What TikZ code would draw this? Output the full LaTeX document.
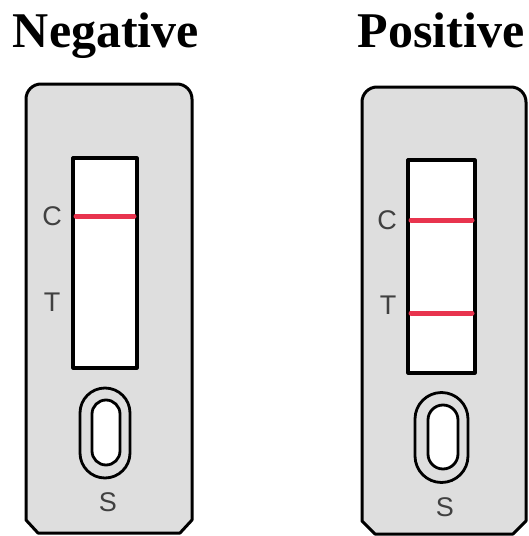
\documentclass[tikz,border=0pt]{standalone}
\usepackage{fontspec}
\setmainfont{Liberation Serif}
\newfontfamily\labelfont{Liberation Sans}
\begin{document}
\begin{tikzpicture}[x=1pt,y=-1pt,
  cardbody/.style={draw=black,fill=cardgray,line width=3pt,line join=round},
  stripwin/.style={draw=black,fill=white,line width=3.2pt,line join=round},
  bandline/.style={draw=bandred,line width=5pt,line cap=round},
  wellring/.style={draw=black,line width=2.8pt},
  marklabel/.style={font=\labelfont\fontsize{27}{27}\selectfont,text=labelgray,inner sep=0pt},
  heading/.style={font=\bfseries\fontsize{50}{50}\selectfont,inner sep=0pt,anchor=base}]
\definecolor{cardgray}{HTML}{DEDEDE}
\definecolor{bandred}{HTML}{E8344E}
\definecolor{labelgray}{HTML}{404040}
\useasboundingbox (0,0) rectangle (528,536);

% headings
\node[heading] (neg) at (106,47) {Negative};
\node[heading] (pos) at (441,47) {Positive};

% ---- negative cassette ----
\draw[cardbody] (26,99) arc[start angle=180,end angle=270,radius=15] -- (177,84)
  arc[start angle=270,end angle=360,radius=15] -- (192,520) -- (180,533) -- (38,533) -- (26,520) -- cycle;
\draw[stripwin] (73,158) rectangle (137,368);
\draw[bandline] (76,216) -- (134,216);
\node[marklabel] (c1) at (52,216) {C};
\node[marklabel] (t1) at (52,302) {T};
\draw[wellring,fill=cardgray] (80,413) arc[start angle=180,end angle=360,radius=25] -- (130,453)
  arc[start angle=0,end angle=180,radius=25] -- cycle;
\draw[wellring,fill=white] (92,414) arc[start angle=180,end angle=360,radius=14] -- (120,451)
  arc[start angle=0,end angle=180,radius=14] -- cycle;
\node[marklabel] (s1) at (108,502) {S};

% ---- positive cassette ----
\draw[cardbody] (362,102) arc[start angle=180,end angle=270,radius=15] -- (511,87)
  arc[start angle=270,end angle=360,radius=15] -- (526,521) -- (513,534) -- (375,534) -- (362,521) -- cycle;
\draw[stripwin] (408,160) rectangle (475,373);
\draw[bandline] (411,220) -- (472,220);
\draw[bandline] (411,313) -- (472,313);
\node[marklabel] (c2) at (387,220) {C};
\node[marklabel] (t2) at (388,305) {T};
\draw[wellring,fill=cardgray] (415,419) arc[start angle=180,end angle=360,radius=26.5] -- (468,456)
  arc[start angle=0,end angle=180,radius=26.5] -- cycle;
\draw[wellring,fill=white] (428,420) arc[start angle=180,end angle=360,radius=15] -- (458,454)
  arc[start angle=0,end angle=180,radius=15] -- cycle;
\node[marklabel] (s2) at (445,507) {S};
\end{tikzpicture}
\end{document}
